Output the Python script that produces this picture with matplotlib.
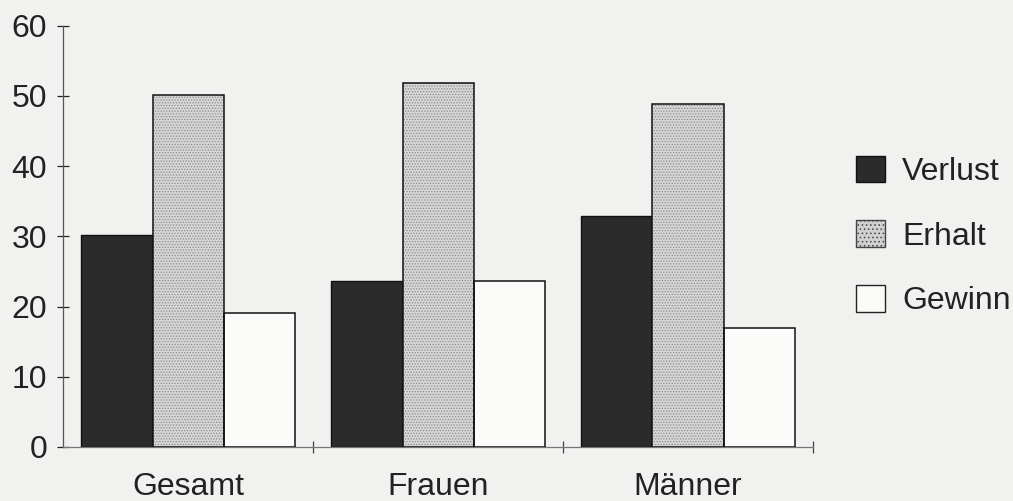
import matplotlib
matplotlib.use("Agg")
import matplotlib.pyplot as plt
from matplotlib.patches import Patch
import numpy as np

groups = ["Gesamt", "Frauen", "Männer"]
series = ["Verlust", "Erhalt", "Gewinn"]
verlust = [30.2, 23.6, 32.9]
erhalt = [50.1, 51.9, 48.9]
gewinn = [19.1, 23.6, 16.9]

paper = "#f1f1ef"
plt.rcParams["font.family"] = ["Liberation Sans", "DejaVu Sans"]
plt.rcParams["hatch.linewidth"] = 0.6

fig = plt.figure(figsize=(10.13, 5.01), dpi=100, facecolor=paper)
ax = fig.add_axes([0.0625, 0.108, 0.74, 0.8405])
ax.set_facecolor(paper)

x = np.arange(len(groups))
w = 0.285

# dark bars
ax.bar(x - w, verlust, w, color="#2b2b2b", edgecolor="#111111", linewidth=1, zorder=3)
# stippled grey bars: dotted fill first, black outline on top
ax.bar(x, erhalt, w, color="#d6d6d6", edgecolor="#8c8c8c", hatch="......",
       linewidth=0, zorder=3)
ax.bar(x, erhalt, w, color="none", edgecolor="#111111", linewidth=1.1, zorder=4)
# open bars
ax.bar(x + w, gewinn, w, color="#fbfbfa", edgecolor="#111111", linewidth=1.1, zorder=3)

ax.set_xlim(-0.5, 2.5)
ax.set_ylim(0, 60)
ax.set_yticks(range(0, 61, 10))
ax.set_xticks(x)
ax.set_xticklabels(groups)
ax.set_xticks([0.5, 1.5, 2.5], minor=True)

ax.tick_params(axis="y", direction="inout", length=9, width=0.9, labelsize=23,
               pad=7, colors="#222222")
ax.tick_params(axis="x", which="major", length=0, labelsize=23, pad=18,
               colors="#222222")
ax.tick_params(axis="x", which="minor", direction="inout", length=9, width=0.9,
               color="#444444")

for side in ["top", "right"]:
    ax.spines[side].set_visible(False)
ax.spines["left"].set_color("#555555")
ax.spines["bottom"].set_color("#777777")
ax.spines["left"].set_linewidth(0.9)
ax.spines["bottom"].set_linewidth(0.9)

handles = [
    Patch(facecolor="#2b2b2b", edgecolor="#111111", linewidth=1),
    Patch(facecolor="#d0d0d0", edgecolor="#444444", linewidth=1, hatch="...."),
    Patch(facecolor="#fbfbfa", edgecolor="#222222", linewidth=1),
]
fig.legend(handles, series, loc="center left", bbox_to_anchor=(0.845, 0.529),
           frameon=False, fontsize=23, handlelength=0.9, handleheight=0.9,
           handletextpad=0.55, labelspacing=1.05, borderpad=0, borderaxespad=0,
           labelcolor="#222222")

fig.savefig("out.png", dpi=100, facecolor=paper)
